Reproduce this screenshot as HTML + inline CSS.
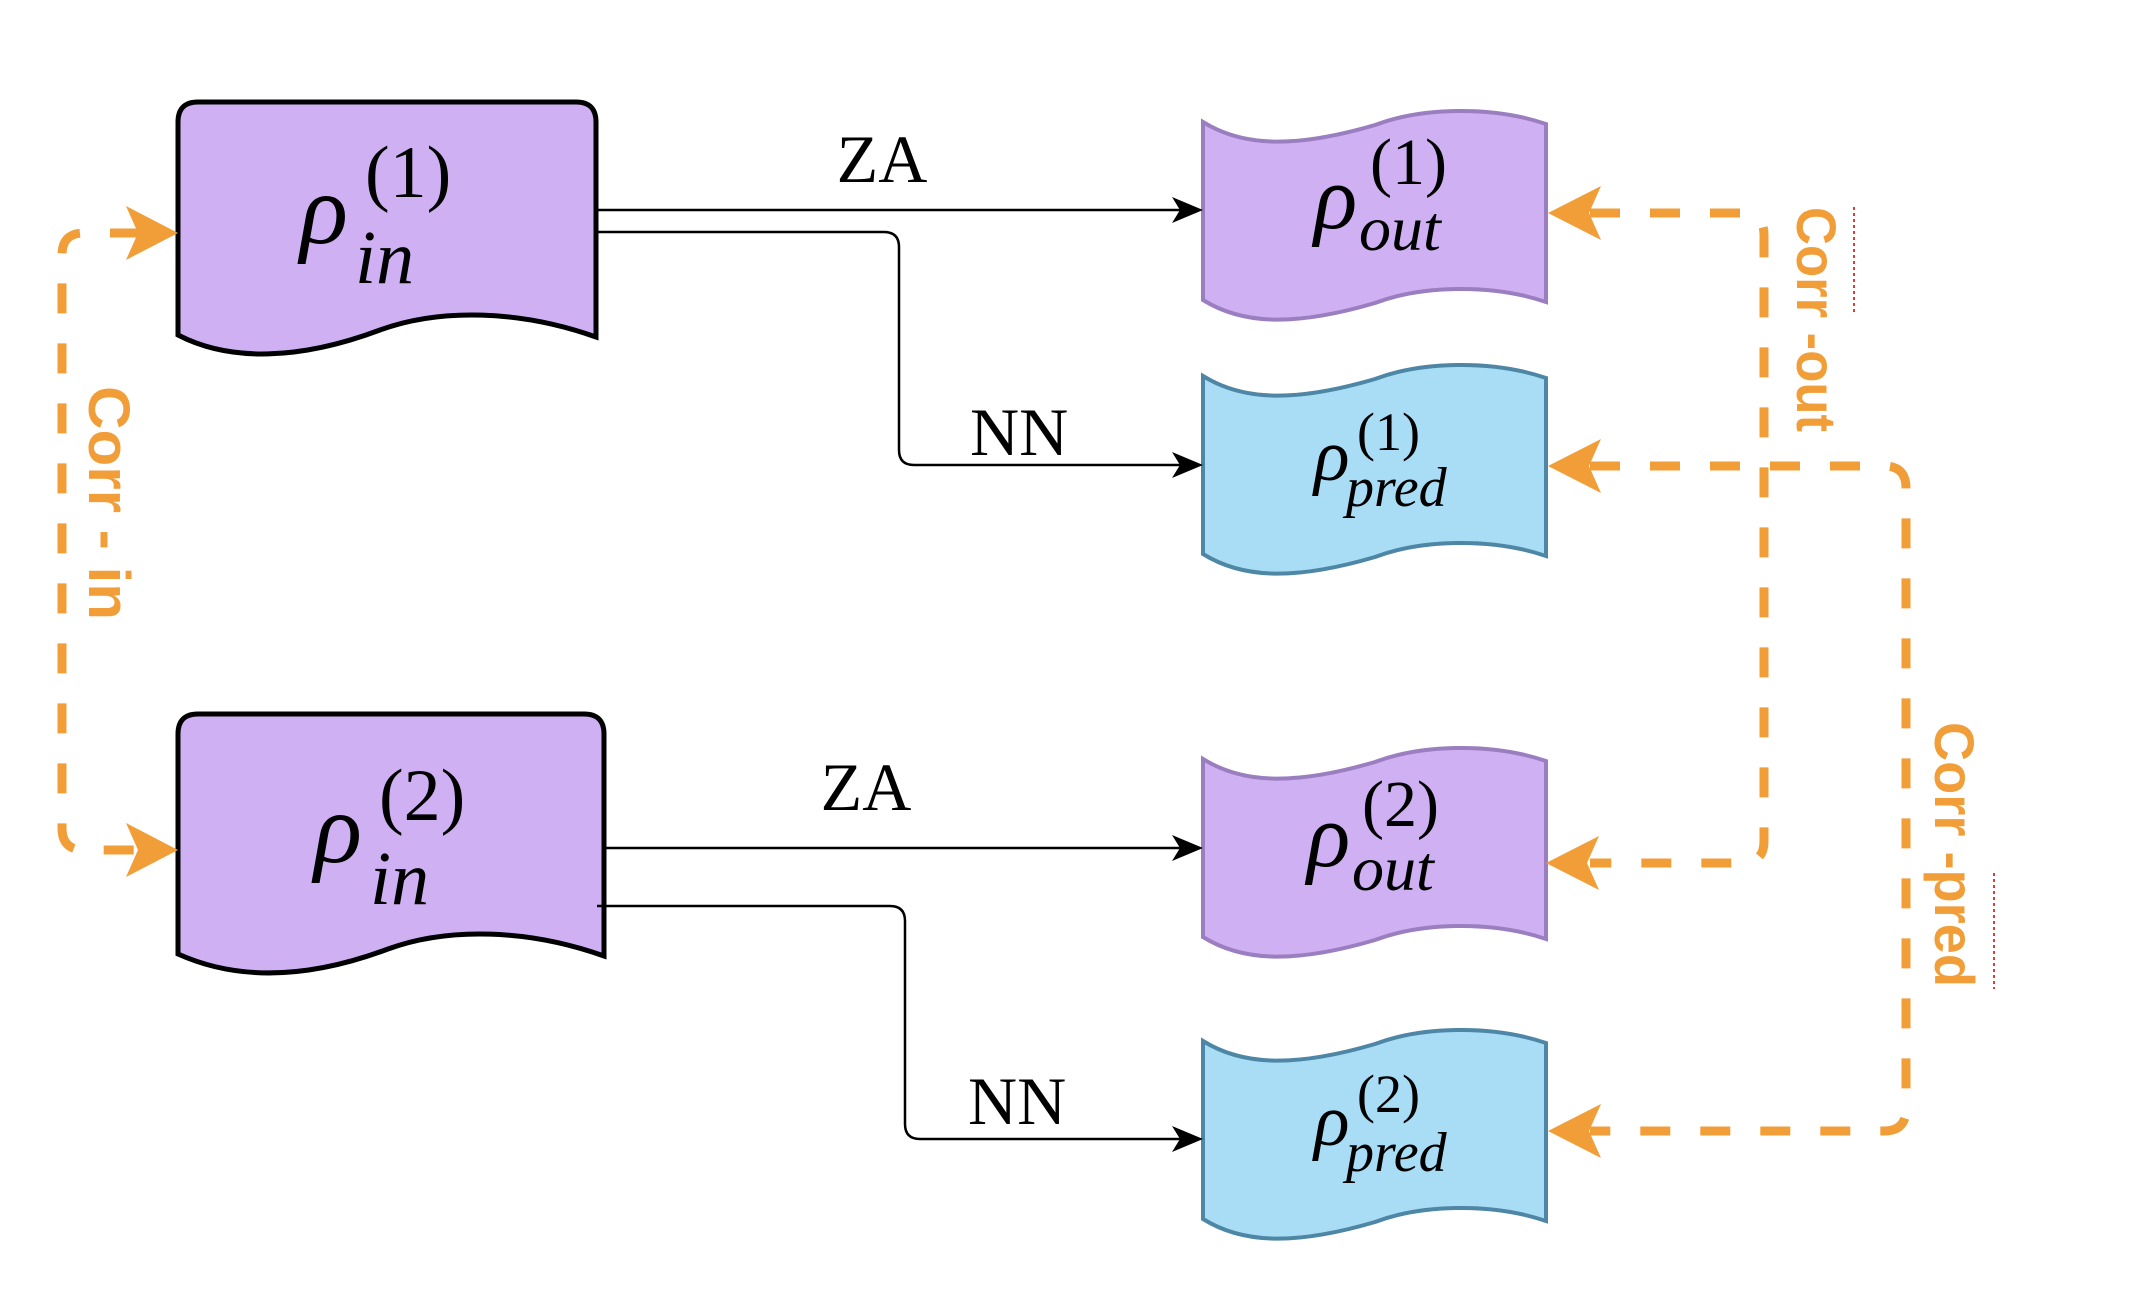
<!DOCTYPE html>
<html><head><meta charset="utf-8"><style>
html,body{margin:0;padding:0;background:#fff}
svg{display:block}
.m{font-family:"Liberation Serif",serif;font-style:italic;fill:#000}
.n{font-family:"Liberation Serif",serif;fill:#000}
.c{font-family:"Liberation Sans",sans-serif;font-weight:bold;fill:#F19E38}
</style></head><body>
<svg width="2152" height="1296" viewBox="0 0 2152 1296" xmlns="http://www.w3.org/2000/svg">
<defs>
<path id="tape" d="M1203,0 C1240,23 1290,28 1375,3 C1420,-14 1490,-17 1546,2 L1546,180 C1490,161 1420,164 1375,181 C1290,206 1240,201 1203,178 Z"/>
<marker id="ba" markerWidth="12" markerHeight="12" refX="10" refY="5" orient="auto" markerUnits="userSpaceOnUse" viewBox="0 0 10 10">
</marker>
</defs>

<!-- input boxes -->
<path d="M178,335 L178,122 Q178,102 198,102 L576,102 Q596,102 596,122 L596,337 C520,310 440,308 380,330 C300,360 230,362 178,335 Z" fill="#CFB1F3" stroke="#000" stroke-width="5"/>
<path d="M178,954 L178,734 Q178,714 198,714 L584,714 Q604,714 604,734 L604,956 C528,929 448,927 388,949 C308,979 238,981 178,954 Z" fill="#CFB1F3" stroke="#000" stroke-width="5"/>

<!-- output tapes -->
<use href="#tape" transform="translate(0,122)" fill="#CFB1F3" stroke="#9B7EC0" stroke-width="4"/>
<use href="#tape" transform="translate(0,376)" fill="#A8DDF5" stroke="#4E86A5" stroke-width="4"/>
<use href="#tape" transform="translate(0,759)" fill="#CFB1F3" stroke="#9B7EC0" stroke-width="4"/>
<use href="#tape" transform="translate(0,1041)" fill="#A8DDF5" stroke="#4E86A5" stroke-width="4"/>

<!-- black connectors -->
<g fill="none" stroke="#000" stroke-width="2.5">
<path d="M598,210 L1180,210"/>
<path d="M598,232 L884,232 Q899,232 899,247 L899,450 Q899,465 914,465 L1180,465"/>
<path d="M606,848 L1180,848"/>
<path d="M597,906 L890,906 Q905,906 905,921 L905,1124 Q905,1139 920,1139 L1180,1139"/>
</g>
<g fill="#000">
<path d="M1203,210 L1172,197 L1180,210 L1172,223 Z"/>
<path d="M1203,465 L1172,452 L1180,465 L1172,478 Z"/>
<path d="M1203,848 L1172,835 L1180,848 L1172,861 Z"/>
<path d="M1203,1139 L1172,1126 L1180,1139 L1172,1152 Z"/>
</g>
<text class="n" x="882" y="182" font-size="68" text-anchor="middle">ZA</text>
<text class="n" x="866" y="810" font-size="68" text-anchor="middle">ZA</text>
<text class="n" x="970" y="455" font-size="68">NN</text>
<text class="n" x="968" y="1124" font-size="68">NN</text>

<!-- orange dashed connectors -->
<g fill="none" stroke="#F19E38" stroke-width="9" stroke-dasharray="30,30">
<path d="M140,233 L84,233 Q62,233 62,255 L62,828 Q62,850 84,850 L140,850"/>
<path d="M1590,213 L1742,213 Q1764,213 1764,235 L1764,841 Q1764,863 1742,863 L1590,863"/>
<path d="M1590,466 L1884,466 Q1906,466 1906,488 L1906,1109 Q1906,1131 1884,1131 L1590,1131"/>
</g>
<g fill="#F19E38">
<path d="M178,233 L126,206 L138,233 L126,260 Z"/>
<path d="M178,850 L126,823 L138,850 L126,877 Z"/>
<path d="M1548,213 L1601,186 L1589,213 L1601,240 Z"/>
<path d="M1548,466 L1601,439 L1589,466 L1601,493 Z"/>
<path d="M1546,863 L1599,836 L1587,863 L1599,890 Z"/>
<path d="M1548,1131 L1601,1104 L1589,1131 L1601,1158 Z"/>
</g>
<text class="c" font-size="58" transform="translate(89,386) rotate(90)" textLength="234" lengthAdjust="spacingAndGlyphs">Corr - in</text>
<text class="c" font-size="56" transform="translate(1797,207) rotate(90)" textLength="225" lengthAdjust="spacingAndGlyphs">Corr -out</text>
<text class="c" font-size="56" transform="translate(1935,722) rotate(90)" textLength="265" lengthAdjust="spacingAndGlyphs">Corr -pred</text>
<line x1="1854" y1="207" x2="1854" y2="315" stroke="#E53935" stroke-width="2" stroke-dasharray="3,3"/>
<line x1="1994" y1="873" x2="1994" y2="989" stroke="#E53935" stroke-width="2" stroke-dasharray="3,3"/>

<!-- math labels -->
<text class="m" x="300" y="243" font-size="100">ρ</text>
<text class="n" x="365" y="197" font-size="74">(1)</text>
<text class="m" x="355" y="283" font-size="76">in</text>

<text class="m" x="314" y="862" font-size="100">ρ</text>
<text class="n" x="379" y="820" font-size="74">(2)</text>
<text class="m" x="370" y="904" font-size="76">in</text>

<text class="m" x="1314" y="228" font-size="90">ρ</text>
<text class="n" x="1370" y="184" font-size="66">(1)</text>
<text class="m" x="1359" y="250" font-size="64">out</text>

<text class="m" x="1314" y="480" font-size="74">ρ</text>
<text class="n" x="1357" y="450" font-size="54">(1)</text>
<text class="m" x="1346" y="506" font-size="56">pred</text>

<text class="m" x="1307" y="866" font-size="90">ρ</text>
<text class="n" x="1362" y="826" font-size="66">(2)</text>
<text class="m" x="1352" y="890" font-size="64">out</text>

<text class="m" x="1314" y="1145" font-size="74">ρ</text>
<text class="n" x="1357" y="1112" font-size="54">(2)</text>
<text class="m" x="1346" y="1171" font-size="56">pred</text>
</svg>
</body></html>
